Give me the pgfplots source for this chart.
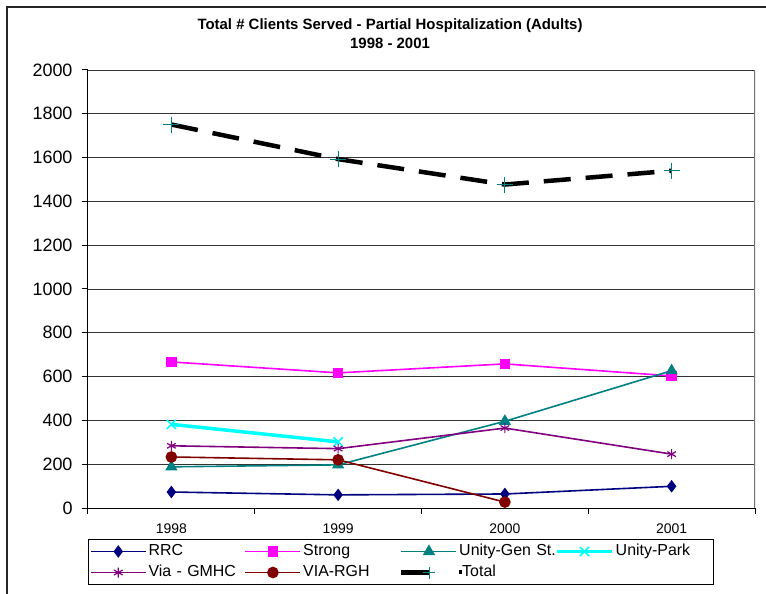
\documentclass[border=0pt]{standalone}
\usepackage{pgfplots}
\pgfplotsset{compat=1.18}
\usepackage{fontspec}
\setmainfont{Liberation Sans}
\setsansfont{Liberation Sans}

\definecolor{rrc}{RGB}{0,0,128}
\definecolor{strong}{RGB}{255,0,255}
\definecolor{ugen}{RGB}{0,128,128}
\definecolor{upark}{RGB}{0,255,255}
\definecolor{via}{RGB}{128,0,128}
\definecolor{rgh}{RGB}{128,0,0}

\begin{document}
\begin{tikzpicture}
\begin{axis}[
  scale only axis, width=667bp, height=438bp,
  xmin=-0.5, xmax=3.5, ymin=0, ymax=2000,
  axis x line*=bottom, axis y line*=left,
  axis line style={black, line width=1bp},
  % boundaries between categories carry the tick marks
  xtick={-0.5,0.5,1.5,2.5,3.5}, xticklabels={,,,,},
  extra x ticks={0,1,2,3},
  extra x tick labels={1998,1999,2000,2001},
  extra x tick style={major tick length=0pt},
  ytick={0,200,...,2000},
  tick align=outside,
  major tick length=6bp,
  tick style={black, line width=1bp},
  ymajorgrids, grid style={black!80, line width=0.8bp},
  /pgf/number format/assume math mode=true,
  yticklabel style={font=\fontsize{18}{20}\selectfont, xshift=-6bp, /pgf/number format/1000 sep={}},
  xticklabel style={font=\fontsize{14}{16}\selectfont, yshift=-12bp},
  title={Total \# Clients Served - Partial Hospitalization (Adults)\\1998 - 2001},
  title style={at={(axis description cs:0.4528,1.0685)}, anchor=center, align=center,
    font=\bfseries\fontsize{15}{19}\selectfont},
  legend image code/.code={\draw[mark repeat=2,mark phase=2,#1] plot coordinates {(0bp,0bp) (27.5bp,0bp) (55bp,0bp)};},
  legend columns=4,
  legend style={at={(axis description cs:0,-0.0708)}, anchor=north west,
    draw=black, line width=1bp, inner sep=1.5bp, fill=white,
    font=\fontsize{16}{18}\selectfont,
    nodes={inner xsep=2bp, inner ysep=2.5bp, text height=12bp, text depth=4bp, text width=94bp, align=left, anchor=west},
    /tikz/every even column/.append style={column sep=0bp},
    row sep=0bp},
  legend cell align=left,
]
\addplot[rrc, line width=1.6bp, mark=diamond*, mark size=5bp, mark options={solid}]
  coordinates {(0,73) (1,60) (2,64) (3,99)};
\addlegendentry{RRC}
\addplot[strong, line width=1.6bp, mark=square*, mark size=4.5bp, mark options={solid}]
  coordinates {(0,667) (1,617) (2,658) (3,603)};
\addlegendentry{Strong}
\addplot[ugen, line width=1.6bp, mark=triangle*, mark size=5.5bp, mark options={solid}]
  coordinates {(0,188) (1,197) (2,396) (3,627)};
\addlegendentry{\mbox{Unity-Gen St.}}
\addplot[upark, line width=3.5bp, mark=x, mark size=6.5bp, mark options={solid, line width=1.5bp}]
  coordinates {(0,382) (1,302)};
\addlegendentry{Unity-Park}
\addplot[via, line width=1.6bp, mark=asterisk, mark size=5bp, mark options={solid, line width=1.2bp}]
  coordinates {(0,284) (1,271) (2,365) (3,246)};
\addlegendentry{Via - GMHC}
\addplot[rgh, line width=1.6bp, mark=*, mark size=5bp, mark options={solid}]
  coordinates {(0,233) (1,220) (2,27)};
\addlegendentry{VIA-RGH}
\addplot[black, line width=4.5bp, dash pattern=on 27bp off 15bp,
  mark=+, mark size=8bp, mark options={ugen, solid, line width=1bp},
  legend image code/.code={
    \draw[black, solid, line width=4.5bp] (0bp,0bp) -- (28bp,0bp);
    \draw[ugen, solid, line width=1bp] (28bp,-6bp) -- (28bp,6bp) (22bp,0bp) -- (34bp,0bp);
    \path[draw=none] (0bp,0bp) -- (55bp,0bp);}]
  coordinates {(0,1751) (1,1593) (2,1477) (3,1540)};
\addlegendentry{\rule[3bp]{3bp}{4bp}Total}
\draw[black!55, line width=1.2bp] (rel axis cs:1,0) -- (rel axis cs:1,1);
\end{axis}
\draw[black!85, line width=1.8bp] (-81bp,-100bp) -- (-81bp,501bp) -- (700bp,501bp);
\pgfresetboundingbox
\useasboundingbox (-88bp,-86bp) rectangle (678bp,508bp);
\end{tikzpicture}
\end{document}
